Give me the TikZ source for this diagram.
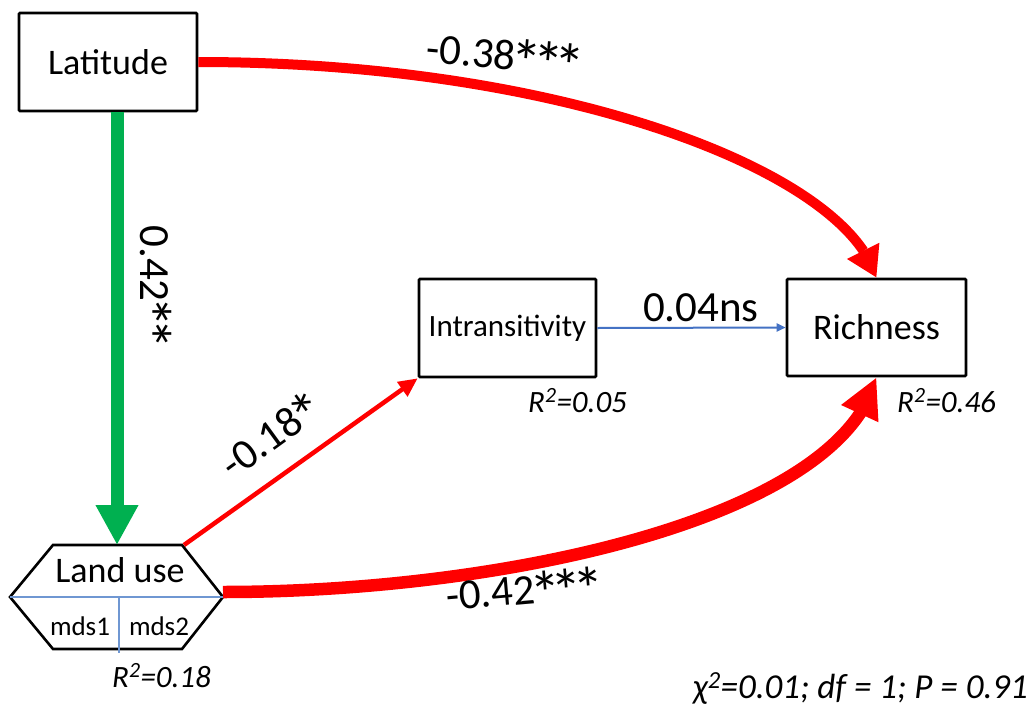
\documentclass[tikz,border=0pt]{standalone}
\usepackage{fontspec}
\setmainfont{Carlito}
\usetikzlibrary{arrows.meta,bending,calc}
\definecolor{pathred}{HTML}{FF0000}
\definecolor{pathgreen}{HTML}{00B050}
\definecolor{pathblue}{HTML}{4472C4}
\definecolor{divblue}{HTML}{6F97D2}
\newcommand{\mystar}{\makebox[0.5em]{\raisebox{-0.3em}{\scalebox{1.45}{*}}}}
\tikzset{
  varbox/.style={draw=black, line width=2.6pt, rounded corners=1pt, fill=white, inner sep=0pt, align=center},
  bigtxt/.style={font=\fontsize{36}{40}\selectfont},
  midtxt/.style={font=\fontsize{31}{36}\selectfont},
  smalltxt/.style={font=\fontsize{27}{30}\selectfont},
  coef/.style={font=\fontsize{43}{48}\selectfont, inner sep=0pt},
  rsq/.style={font=\fontsize{31}{36}\selectfont\itshape, inner sep=0pt},
}
\begin{document}
\begin{tikzpicture}[x=1pt, y=-1pt]
\useasboundingbox (0,0) rectangle (1034,715);
\fill[white] (0,0) rectangle (1034,715);

% boxes
\node[varbox, bigtxt, minimum width=178pt, minimum height=98pt] (lat) at (108,62) {Latitude};
\node[varbox, midtxt, minimum width=177pt, minimum height=98pt] (intr) at (507.5,328) {Intransitivity};
\node[varbox, bigtxt, minimum width=179pt, minimum height=97pt] (rich) at (876.5,327.5) {Richness};

% land use hexagon
\coordinate (lutl) at (53,545);
\coordinate (lutop) at (117,545);
\coordinate (lutr) at (182,545);
\coordinate (luright) at (223,597);
\coordinate (lubr) at (182,649);
\coordinate (lubl) at (53,649);
\coordinate (luleft) at (10,597);
\coordinate (ludiv) at (119,597);
\coordinate (ludivend) at (119,653);
\draw[black, line width=2.6pt, line join=miter, fill=white] (lutl) -- (lutr) -- (luright) -- (lubr) -- (lubl) -- (luleft) -- cycle;
\draw[divblue, line width=1.3pt] (luleft) -- (luright);
\draw[divblue, line width=1.3pt] (ludiv) -- (ludivend);
\node[bigtxt, inner sep=0pt] (landuse) at (120,570) {Land use};
\node[smalltxt, inner sep=0pt] (mdsa) at (80,626) {mds1};
\node[smalltxt, inner sep=0pt] (mdsb) at (159,626) {mds2};

% connectors
\draw[pathgreen, line width=13pt, -{Triangle[length=40pt,width=40pt]}]
  ([xshift=9pt]lat.south) -- (lutop);
\draw[pathred, line width=10pt, -{Triangle[length=30pt,width=34pt]}]
  (lat.east) .. controls (560,62) and (845,170) .. (rich.north);
\draw[pathred, line width=12.5pt, -{Triangle[length=40pt,width=38pt]}]
  ([yshift=5pt]luright) .. controls (500,592) and (840,520) .. (rich.south);
\draw[pathred, line width=4.5pt, -{Triangle[length=19pt,width=17pt]}]
  ([xshift=2pt]lutr) -- (intr.south west);
\draw[pathblue, line width=2pt, -{Triangle[length=9pt,width=8pt]}]
  (intr.east) -- (rich.west);

% coefficient labels
\node[coef, rotate=-5] (c1) at (503,60) {-0.38\mystar\mystar\mystar};
\node[coef, rotate=-90] (c2) at (150,285) {0.42\mystar\mystar};
\node[coef, rotate=36] (c3) at (273,440) {-0.18\mystar};
\node[coef, anchor=base] (c4) at (701,321) {0.04ns};
\node[coef, rotate=5] (c5) at (523,595) {-0.42\mystar\mystar\mystar};

% R2 labels
\node[rsq, anchor=base west] (r1) at (528,412) {R\textsuperscript{2}=0.05};
\node[rsq, anchor=base west] (r2) at (897,412) {R\textsuperscript{2}=0.46};
\node[rsq, anchor=base west] (r3) at (112,687) {R\textsuperscript{2}=0.18};
\node[font=\fontsize{35}{40}\selectfont\itshape, inner sep=0pt, anchor=base east] (fit) at (1028,698) {χ\textsuperscript{2}=0.01; df = 1; P = 0.91};
\end{tikzpicture}
\end{document}
